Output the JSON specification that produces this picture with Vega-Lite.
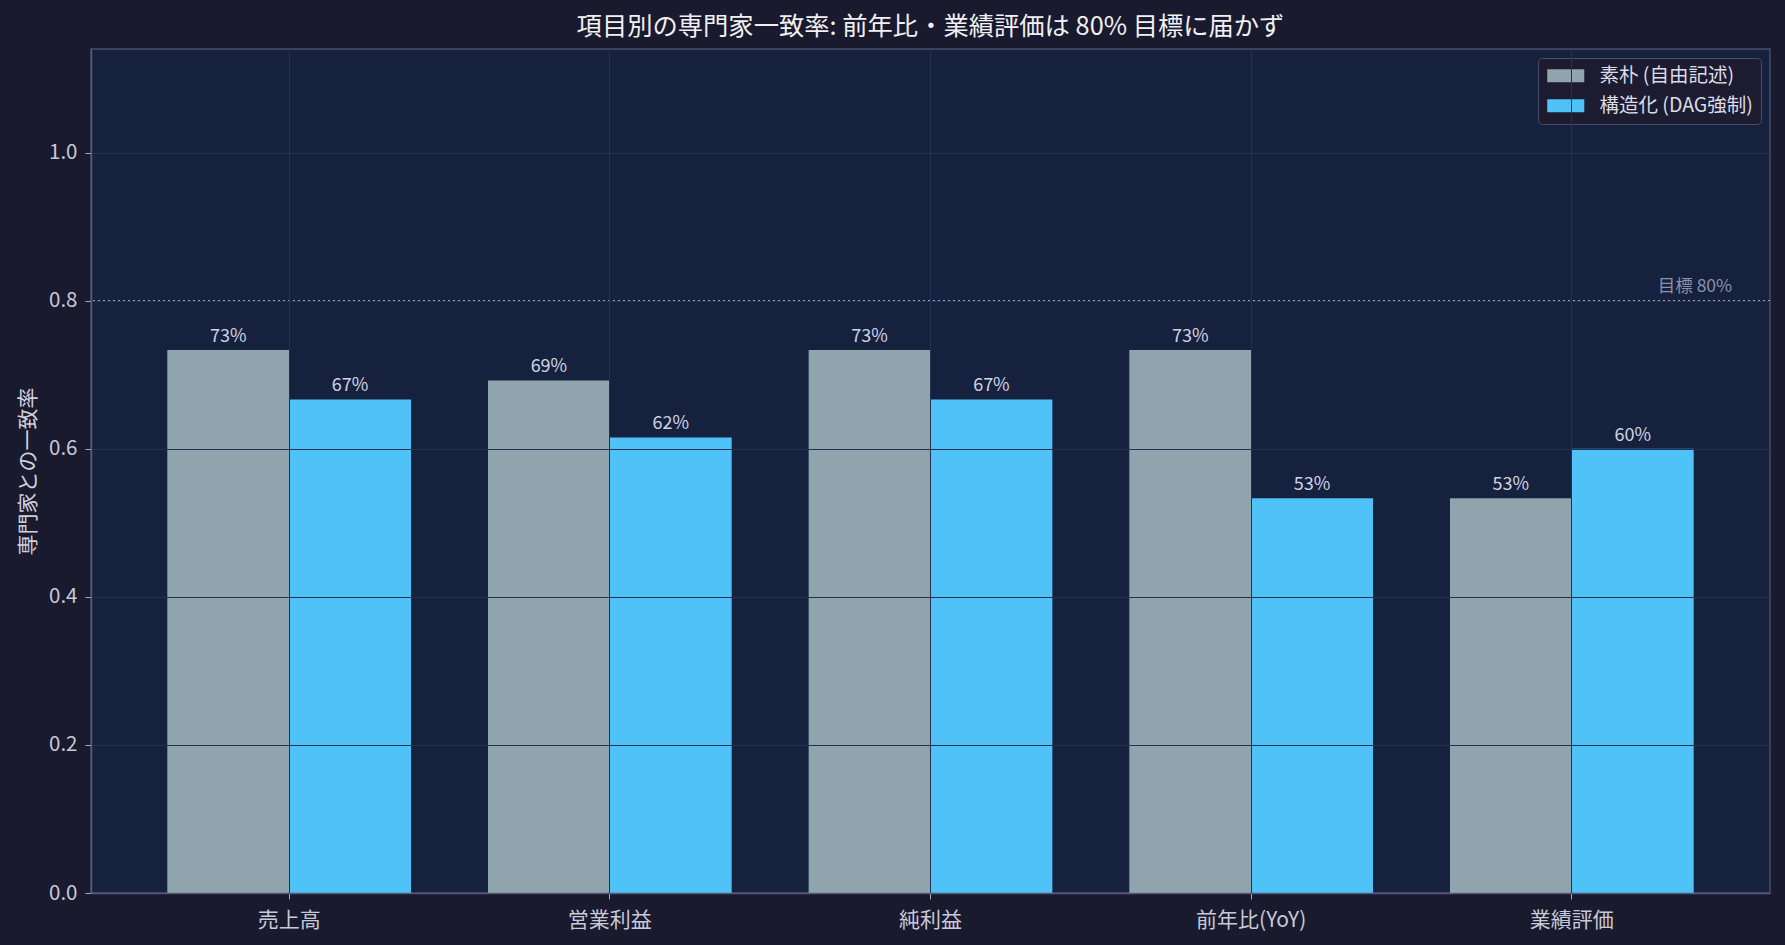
{
  "$schema": "https://vega.github.io/schema/vega-lite/v6.json",
  "width": 1679,
  "height": 844,
  "autosize": {"type": "none"},
  "padding": {"left": 91, "top": 49, "right": 15, "bottom": 52},
  "background": "#1a1a2e",
  "title": {
    "text": "項目別の専門家一致率: 前年比・業績評価は 80% 目標に届かず",
    "fontSize": 25.3,
    "fontWeight": "normal",
    "color": "#f0f0f5",
    "anchor": "middle",
    "baseline": "alphabetic",
    "offset": 13,
    "dy": 24
  },
  "datasets": {
    "rates": [
      {"item": "売上高", "method": "素朴 (自由記述)", "rate": 0.7333},
      {"item": "売上高", "method": "構造化 (DAG強制)", "rate": 0.6667},
      {"item": "営業利益", "method": "素朴 (自由記述)", "rate": 0.6923},
      {"item": "営業利益", "method": "構造化 (DAG強制)", "rate": 0.6154},
      {"item": "純利益", "method": "素朴 (自由記述)", "rate": 0.7333},
      {"item": "純利益", "method": "構造化 (DAG強制)", "rate": 0.6667},
      {"item": "前年比(YoY)", "method": "素朴 (自由記述)", "rate": 0.7333},
      {"item": "前年比(YoY)", "method": "構造化 (DAG強制)", "rate": 0.5333},
      {"item": "業績評価", "method": "素朴 (自由記述)", "rate": 0.5333},
      {"item": "業績評価", "method": "構造化 (DAG強制)", "rate": 0.6}
    ],
    "target": [
      {"item": "業績評価", "label": "目標 80%", "rate": 0.8}
    ]
  },
  "data": {"name": "rates"},
  "layer": [
    {
      "mark": {"type": "bar"},
      "encoding": {
        "x": {
          "field": "item",
          "type": "nominal",
          "sort": ["売上高", "営業利益", "純利益", "前年比(YoY)", "業績評価"],
          "title": null,
          "scale": {
            "domain": ["売上高", "営業利益", "純利益", "前年比(YoY)", "業績評価"],
            "paddingInner": 0.24,
            "paddingOuter": 0.238
          },
          "axis": {
            "labelAngle": 0,
            "bandPosition": 0.5,
            "grid": true,
            "zindex": 1
          }
        },
        "xOffset": {
          "field": "method",
          "type": "nominal",
          "sort": ["素朴 (自由記述)", "構造化 (DAG強制)"],
          "scale": {"paddingInner": 0, "paddingOuter": 0}
        },
        "y": {
          "field": "rate",
          "type": "quantitative",
          "title": "専門家との一致率",
          "scale": {"domain": [0, 1.14], "nice": false, "zero": true},
          "axis": {
            "values": [0, 0.2, 0.4, 0.6, 0.8, 1.0],
            "format": ".1f",
            "grid": true,
            "zindex": 1
          }
        },
        "color": {
          "field": "method",
          "type": "nominal",
          "sort": ["素朴 (自由記述)", "構造化 (DAG強制)"],
          "scale": {
            "domain": ["素朴 (自由記述)", "構造化 (DAG強制)"],
            "range": ["#90a4ae", "#4fc3f7"]
          },
          "legend": {
            "title": null,
            "orient": "top-right",
            "offset": 9,
            "fillColor": "#1c1b2f",
            "strokeColor": "#4a4e6e",
            "cornerRadius": 4,
            "padding": 8,
            "symbolType": "M-2.85,-1H2.85V1H-2.85Z",
            "symbolSize": 169,
            "symbolOffset": 10,
            "symbolStrokeWidth": 0,
            "symbolOpacity": 1,
            "labelOffset": 24,
            "labelFontSize": 19.5,
            "labelColor": "#dcdce8",
            "rowPadding": 9
          }
        }
      }
    },
    {
      "mark": {"type": "text", "dy": -8, "baseline": "alphabetic", "fontSize": 18, "color": "#cfd3e2"},
      "encoding": {
        "x": {
          "field": "item",
          "type": "nominal",
          "sort": ["売上高", "営業利益", "純利益", "前年比(YoY)", "業績評価"]
        },
        "xOffset": {
          "field": "method",
          "type": "nominal",
          "sort": ["素朴 (自由記述)", "構造化 (DAG強制)"]
        },
        "y": {"field": "rate", "type": "quantitative"},
        "text": {"field": "rate", "type": "quantitative", "format": ".0%"}
      }
    },
    {
      "data": {"name": "target"},
      "mark": {"type": "rule", "color": "#9aa2bb", "strokeDash": [2, 3], "strokeWidth": 1.3},
      "encoding": {
        "y": {"field": "rate", "type": "quantitative"}
      }
    },
    {
      "data": {"name": "target"},
      "mark": {"type": "text", "align": "right", "baseline": "alphabetic", "dy": -9, "fontSize": 17.5, "color": "#8a92ab"},
      "encoding": {
        "x": {
          "field": "item",
          "type": "nominal",
          "sort": ["売上高", "営業利益", "純利益", "前年比(YoY)", "業績評価"],
          "bandPosition": 1.158
        },
        "y": {"field": "rate", "type": "quantitative"},
        "text": {"field": "label"}
      }
    }
  ],
  "config": {
    "font": "Noto Sans CJK JP",
    "view": {"fill": "#16213e", "stroke": "#4a4e6e", "strokeWidth": 1.5},
    "axis": {
      "labelFont": "Noto Sans CJK JP",
      "titleFont": "Noto Sans CJK JP",
      "labelFontSize": 20.5,
      "labelColor": "#c8c9d8",
      "titleFontSize": 21,
      "titleFontWeight": "normal",
      "titleColor": "#d0d0dc",
      "titlePadding": 10,
      "labelPadding": 8,
      "tickSize": 6,
      "tickColor": "#a8aabf",
      "domainColor": "#565a7a",
      "domainWidth": 1.5,
      "gridColor": "#243152",
      "gridWidth": 1
    },
    "axisX": {"labelPadding": 10, "labelFontSize": 21},
    "legend": {"labelFont": "Noto Sans CJK JP"}
  }
}
